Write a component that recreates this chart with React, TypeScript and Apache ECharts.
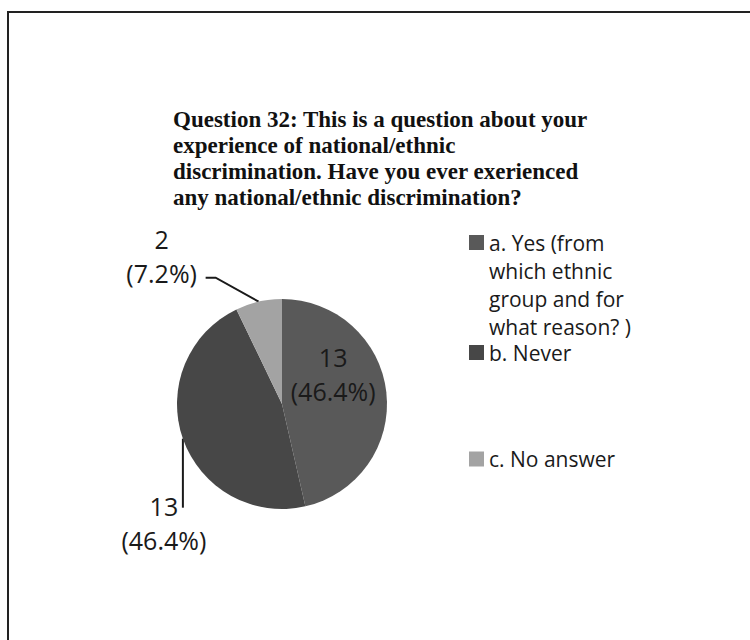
import React, { useEffect, useRef } from "react";
import * as echarts from "echarts";

const titleText =
  "Question 32: This is a question about your\nexperience of national/ethnic\ndiscrimination. Have you ever exerienced\nany national/ethnic discrimination?";
const categories = [
  "a. Yes (from\nwhich ethnic\ngroup and for\nwhat reason? )",
  "b. Never",
  "c. No answer",
];
const counts = [13, 13, 2];
const percentLabels = ["46.4%", "46.4%", "7.2%"];
const colors = ["#595959", "#474747", "#a3a3a3"];

const CX = 282;
const CY = 404;
const R = 105;

function edgePoint(i: number): number[] {
  const total = counts.reduce((a, b) => a + b, 0);
  let cum = 0;
  for (let k = 0; k < i; k++) cum += counts[k];
  const mid = ((cum + counts[i] / 2) / total) * Math.PI * 2;
  return [CX + R * Math.sin(mid), CY - R * Math.cos(mid)];
}

export default function App() {
  const ref = useRef<HTMLDivElement>(null);
  useEffect(() => {
    if (!ref.current) return;
    const chart = echarts.init(ref.current, null, { renderer: "svg" });
    const legendBase = {
      orient: "vertical",
      left: 469,
      padding: 0,
      itemGap: 0,
      selectedMode: false,
    };
    const legendText = {
      fontFamily: "Open Sans",
      fontSize: 21,
      lineHeight: 28,
      color: "#1a1a1a",
    };
    chart.setOption({
      animation: false,
      backgroundColor: "#ffffff",
      color: colors,
      title: {
        text: titleText,
        left: 173,
        top: 106,
        padding: 0,
        textStyle: {
          fontFamily: "Liberation Serif",
          fontWeight: "bold",
          fontSize: 23,
          lineHeight: 26,
          color: "#111111",
        },
      },
      legend: [
        {
          ...legendBase,
          top: 229,
          data: [categories[0]],
          itemWidth: 15,
          itemHeight: 112,
          icon: "path://M0,0h0.01v0.01h-0.01z M0,6h15v15h-15z M0,112h0.01v0.01h-0.01z",
          textStyle: legendText,
        },
        {
          ...legendBase,
          top: 342,
          data: [categories[1]],
          itemWidth: 15,
          itemHeight: 15,
          icon: "rect",
          textStyle: { ...legendText, lineHeight: 18 },
        },
        {
          ...legendBase,
          top: 445,
          data: [categories[2]],
          itemWidth: 15,
          itemHeight: 15,
          icon: "rect",
          textStyle: legendText,
        },
      ],
      graphic: [
        {
          type: "polyline",
          shape: { points: [[8, 640], [8, 12], [750, 12]] },
          style: { stroke: "#222222", lineWidth: 2, fill: null },
          silent: true,
        },
      ],
      series: [
        {
          type: "pie",
          center: [CX, CY],
          radius: R,
          startAngle: 90,
          clockwise: true,
          avoidLabelOverlap: false,
          emphasis: { disabled: true },
          itemStyle: { borderWidth: 0 },
          label: {
            show: true,
            position: "outside",
            fontFamily: "Open Sans",
            fontSize: 25,
            lineHeight: 34,
            color: "#1a1a1a",
            formatter: (p: any) => `${p.value}\n(${percentLabels[p.dataIndex]})`,
          },
          labelLine: {
            show: true,
            length: 10,
            length2: 10,
            lineStyle: { color: "#1a1a1a", width: 2 },
          },
          labelLayout: (params: any) => {
            const i = params.dataIndex;
            if (i === 0) return { dx: -4, dy: -24 };
            const pts = params.labelLinePoints;
            const p0 = pts && pts[0] ? pts[0] : edgePoint(i);
            if (i === 1) {
              return {
                x: p0[0] - 19,
                y: p0[1] + 84,
                align: "center",
                verticalAlign: "middle",
                labelLinePoints: [
                  [p0[0], p0[1]],
                  [p0[0], p0[1] + 69],
                ],
              };
            }
            return {
              x: p0[0] - 97,
              y: p0[1] - 46,
              align: "center",
              verticalAlign: "middle",
              labelLinePoints: [
                [p0[0], p0[1]],
                [p0[0] - 43, p0[1] - 24],
                [p0[0] - 53, p0[1] - 24],
              ],
            };
          },
          data: categories.map((name, i) =>
            i === 0
              ? {
                  name,
                  value: counts[i],
                  label: { position: "inside" },
                  labelLine: { show: false },
                }
              : { name, value: counts[i] }
          ),
        },
      ],
    });
    return () => chart.dispose();
  }, []);
  return (
    <div
      ref={ref}
      style={{ position: "absolute", left: 0, top: 0, width: 750, height: 640 }}
    />
  );
}
